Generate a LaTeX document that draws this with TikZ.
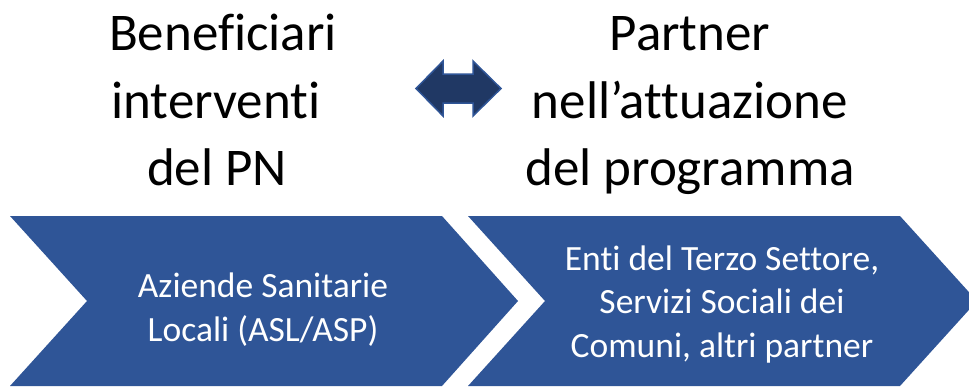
\documentclass[tikz,border=0pt]{standalone}
\usepackage{fontspec}
\setmainfont{Carlito}[Ligatures={NoCommon,NoRare}]

\definecolor{chevblue}{HTML}{2F5597}
\definecolor{arrownavy}{HTML}{203864}

\tikzset{
  headline/.style={anchor=base,inner sep=0pt,font=\fontsize{53}{64}\selectfont},
  boxline/.style={anchor=base,inner sep=0pt,text=white,font=\fontsize{35.5}{43}\selectfont},
}

\begin{document}
\begin{tikzpicture}[x=1pt,y=-1pt]
  \useasboundingbox (0,0) rectangle (969,386);
  \clip (0,0) rectangle (969,386);

  % chevrons
  \fill[chevblue] (10,216) -- (442,216) -- (518,301) -- (442,386)
    -- (10,386) -- (87,301) -- cycle;
  \fill[chevblue] (468,216) -- (900,216) -- (977,301) -- (900,386)
    -- (468,386) -- (545,301) -- cycle;

  % double arrow
  \draw[arrownavy,fill=arrownavy,draw=chevblue,line width=1.5pt,line join=miter]
    (416,88.5) -- (443,61) -- (443,74) -- (473,74) -- (473,61) -- (501,88.5)
    -- (473,116) -- (473,103) -- (443,103) -- (443,116) -- cycle;

  % headings
  \node[headline] (ben1) at (223,50)  {Beneficiari};
  \node[headline] (ben2) at (216,118) {interventi};
  \node[headline] (ben3) at (217,185) {del PN};

  \node[headline] (par1) at (690,50)  {Partner};
  \node[headline] (par2) at (690,118) {nell’attuazione};
  \node[headline] (par3) at (690,185) {del programma};

  % chevron texts
  \node[boxline] (asl1) at (263,297) {Aziende Sanitarie};
  \node[boxline] (asl2) at (263,341) {Locali (ASL/ASP)};

  \node[boxline] (ets1) at (722,270) {Enti del Terzo Settore,};
  \node[boxline] (ets2) at (722,313) {Servizi Sociali dei};
  \node[boxline] (ets3) at (722,357) {Comuni, altri partner};
\end{tikzpicture}
\end{document}
